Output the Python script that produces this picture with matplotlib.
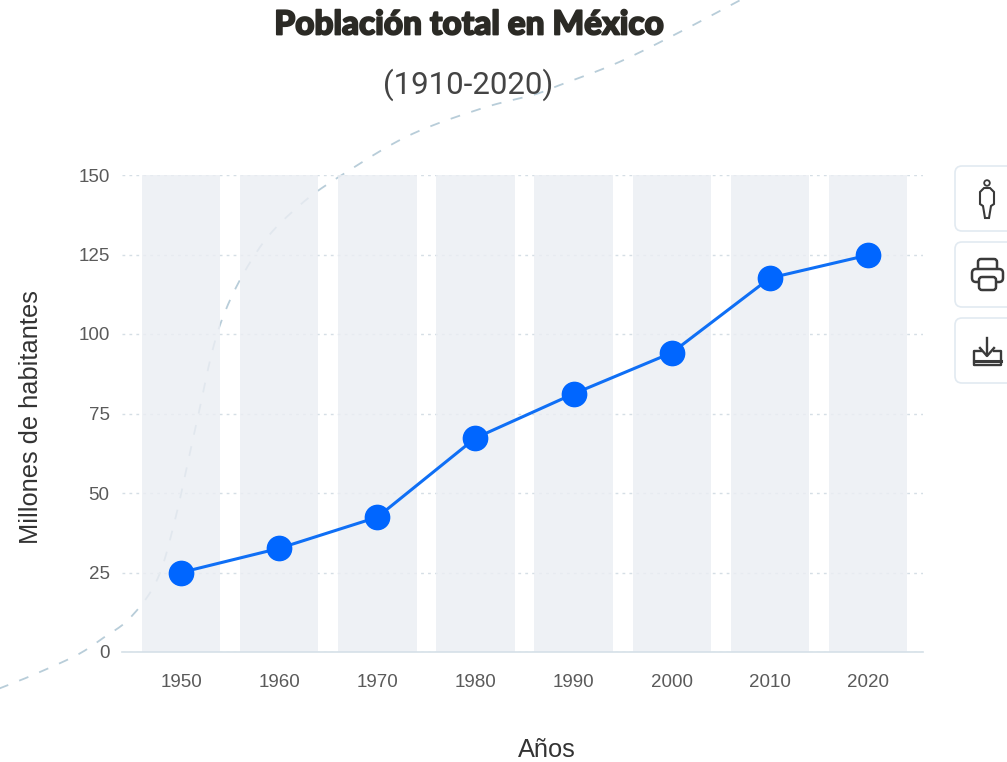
import numpy as np
import matplotlib
matplotlib.use("Agg")
import matplotlib.pyplot as plt
import matplotlib.patheffects as pe
from matplotlib.patches import FancyBboxPatch, Circle, Polygon

years = ["1950", "1960", "1970", "1980", "1990", "2000", "2010", "2020"]
population = [25.0, 32.6, 42.4, 67.3, 81.2, 94.1, 117.6, 124.8]
band_height = [150] * len(years)
y_ticks = [0, 25, 50, 75, 100, 125, 150]
W, H = 1007, 762

# decorative background curve, in pixel coordinates
curve_x = [-2, 33, 77, 103, 130, 157, 175, 195, 220, 258, 300, 345, 410, 483, 533, 560, 617, 678, 748]
curve_y = [689, 675, 655, 638, 618, 580, 520, 430, 325, 250, 205, 173, 135, 108, 95, 85, 63, 33, -4]

fig = plt.figure(figsize=(W / 100, H / 100), dpi=100, facecolor="white")

bg = fig.add_axes([0, 0, 1, 1], zorder=0)
bg.set_xlim(0, W); bg.set_ylim(H, 0); bg.axis("off")

def catmull(xs, ys, n=30):
    p = np.column_stack([xs, ys]).astype(float)
    p = np.vstack([2 * p[0] - p[1], p, 2 * p[-1] - p[-2]])
    out = []
    for i in range(1, len(p) - 2):
        t = np.linspace(0, 1, n)[:, None]
        a, b, c, d = p[i - 1], p[i], p[i + 1], p[i + 2]
        out.append(0.5 * (2 * b + (c - a) * t + (2 * a - 5 * b + 4 * c - d) * t**2
                          + (3 * b - a - 3 * c + d) * t**3))
    return np.vstack(out)

c = catmull(curve_x, curve_y)
bg.plot(c[:, 0], c[:, 1], color="#b8cdd9", lw=1.3, dashes=(5.5, 6.5))

ax = fig.add_axes([122 / W, 1 - 652 / H, (923 - 122) / W, (652 - 175) / H], zorder=1)
ax.patch.set_alpha(0)
pos = np.arange(len(years))
ax.set_xlim(-0.602, 7.56)
ax.set_ylim(0, 150)
ax.bar(pos, band_height, width=0.8, color="#ebeef3", alpha=0.82, zorder=1, linewidth=0)
ax.yaxis.grid(True, color="#d5dee5", lw=1, dashes=(2, 3), zorder=2)
ax.plot(pos, population, color="#0f6ff5", lw=2.2, zorder=3,
        marker="o", ms=17.5, mfc="#0066ff", mec="#0066ff", mew=1)

for s in ["top", "right", "left"]:
    ax.spines[s].set_visible(False)
ax.spines["bottom"].set_color("#d5e0e8")
ax.spines["bottom"].set_linewidth(1.2)
ax.set_xticks(pos, years)
ax.set_yticks(y_ticks)
ax.tick_params(length=0, labelsize=13.5, labelcolor="#5a5a5a", labelfontfamily="Liberation Sans")
ax.tick_params(axis="x", pad=16)
ax.tick_params(axis="y", pad=9)
ax.set_axisbelow(True)

fig.text(31 / W, 1 - 417 / H, "Millones de habitantes", rotation=90, ha="center", va="center",
         fontsize=18.3, color="#333333", family="Liberation Sans")
fig.text(547 / W, 1 - 750 / H, "Años", ha="center", va="center",
         fontsize=18.3, color="#333333", family="Liberation Sans")
fig.text(469 / W, 1 - 25 / H, "Población total en México", ha="center", va="center",
         fontsize=24, color="#2b2a25", family="Lato", weight=900,
         path_effects=[pe.withStroke(linewidth=1.3, foreground="#2b2a25")])
fig.text(468 / W, 1 - 85 / H, "(1910-2020)", ha="center", va="center",
         fontsize=22.5, color="#444444", family="Roboto")

# side buttons
ov = fig.add_axes([0, 0, 1, 1], zorder=2)
ov.set_xlim(0, W); ov.set_ylim(H, 0); ov.axis("off")
ic = "#3a3a3a"
for top in (166, 242, 318):
    ov.add_patch(FancyBboxPatch((955, top), 70, 65, boxstyle="round,pad=0,rounding_size=7",
                                fc="white", ec="#e2eaf1", lw=1.2))
# person
ov.add_patch(Circle((987, 183), 2.8, fc="none", ec=ic, lw=1.3))
ov.add_patch(Polygon([(984, 188), (990, 188), (994, 192), (994, 204), (991, 206), (989, 218),
                      (985, 218), (983, 206), (980, 204), (980, 192)], closed=True, fc="none", ec=ic, lw=1.5))
# printer
ov.add_patch(FancyBboxPatch((978, 259), 19, 12, boxstyle="round,pad=0,rounding_size=3", fc="none", ec=ic, lw=1.8))
ov.add_patch(FancyBboxPatch((972, 269), 31, 13, boxstyle="round,pad=0,rounding_size=4", fc="white", ec=ic, lw=1.8))
ov.add_patch(FancyBboxPatch((979, 277), 17, 13, boxstyle="round,pad=0,rounding_size=3", fc="white", ec=ic, lw=1.8))
# download tray
ov.plot([987, 987], [338, 355], color=ic, lw=1.7)
ov.plot([980, 987, 994], [348, 356, 348], color=ic, lw=1.7)
ov.plot([981, 974, 974, 1001, 1001, 994], [351, 351, 365, 365, 351, 351], color=ic, lw=1.7)
ov.plot([974, 1001], [361, 361], color=ic, lw=2.2)

fig.savefig("out.png", dpi=100, facecolor="white")
